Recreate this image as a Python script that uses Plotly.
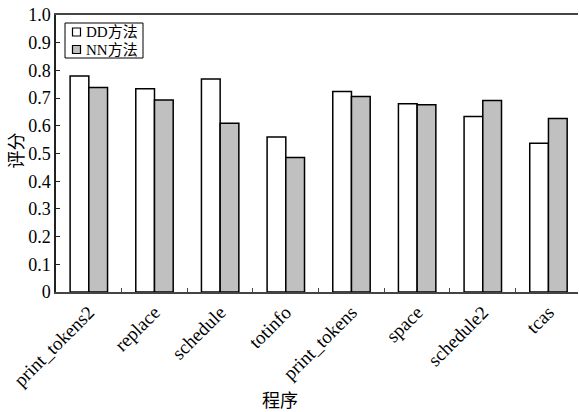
import plotly.graph_objects as go

categories = ["print_tokens2", "replace", "schedule", "totinfo", "print_tokens", "space", "schedule2", "tcas"]
dd_values = [0.780, 0.734, 0.769, 0.560, 0.724, 0.680, 0.634, 0.537]
nn_values = [0.738, 0.693, 0.609, 0.486, 0.706, 0.676, 0.691, 0.626]
series_names = ["DD方法", "NN方法"]
series_colors = ["white", "#c0c0c0"]
y_ticks = [0, 0.1, 0.2, 0.3, 0.4, 0.5, 0.6, 0.7, 0.8, 0.9, 1.0]
y_tick_labels = ["0", "0.1", "0.2", "0.3", "0.4", "0.5", "0.6", "0.7", "0.8", "0.9", "1.0"]

FONT = '"Liberation Serif", "Noto Sans CJK SC", serif'

W, H = 579, 412
ML, MR, MT, MB = 56, 1, 15, 120
plot_w = W - ML - MR
plot_h = H - MT - MB


def px(x):
    return (x - ML) / plot_w


def py(y):
    return (H - MB - y) / plot_h


fig = go.Figure()
for name, vals, col in zip(series_names, [dd_values, nn_values], series_colors):
    fig.add_trace(go.Bar(name=name, x=categories, y=vals, showlegend=False,
                         marker=dict(color=col, line=dict(color="black", width=1.5))))

# legend drawn as box + swatches + text (matching the reference's compact legend)
shapes = [dict(type="rect", xref="paper", yref="paper",
               x0=px(65), x1=px(143), y0=py(58), y1=py(23),
               line=dict(color="black", width=1), fillcolor="white", layer="above")]
annotations = []
for i, (name, col) in enumerate(zip(series_names, series_colors)):
    cy = 32 + i * 17.5
    shapes.append(dict(type="rect", xref="paper", yref="paper",
                       x0=px(72.5), x1=px(80.5), y0=py(cy + 4), y1=py(cy - 4),
                       line=dict(color="black", width=1.2), fillcolor=col, layer="above"))
    annotations.append(dict(text=name, x=px(84), y=py(cy), xref="paper", yref="paper",
                            xanchor="left", yanchor="middle", showarrow=False,
                            font=dict(size=15, family=FONT)))

annotations += [
    dict(text="程序", x=px(279.5), y=py(401), xref="paper", yref="paper",
         xanchor="center", yanchor="middle", showarrow=False,
         font=dict(size=18, family=FONT)),
    dict(text="评分", x=px(16.5), y=py(151), xref="paper", yref="paper",
         xanchor="center", yanchor="middle", textangle=-90, showarrow=False,
         font=dict(size=18, family=FONT)),
]

fig.update_layout(
    width=W, height=H,
    margin=dict(l=ML, r=MR, t=MT, b=MB, autoexpand=False),
    plot_bgcolor="white", paper_bgcolor="white",
    barmode="group", bargap=0.43, bargroupgap=0,
    font=dict(family=FONT, color="black", size=16),
    showlegend=False,
    xaxis=dict(range=[-0.5, 7.45], showline=True, linecolor="#444", linewidth=1.5,
               mirror=True, ticks="inside", tickson="boundaries", ticklen=4,
               tickcolor="#444", tickangle=-45, tickfont=dict(size=19, family=FONT),
               automargin=False, showgrid=False),
    yaxis=dict(range=[0, 1.0], tickvals=y_ticks, ticktext=y_tick_labels,
               showline=True, linecolor="#222", linewidth=1.5,
               ticks="inside", ticklen=4, tickcolor="#222",
               tickfont=dict(size=18, family=FONT), automargin=False,
               showgrid=False, zeroline=False),
    shapes=shapes,
    annotations=annotations,
)

fig.write_html("out.html", config={"displayModeBar": False},
               post_script="document.body.style.margin='0';")
